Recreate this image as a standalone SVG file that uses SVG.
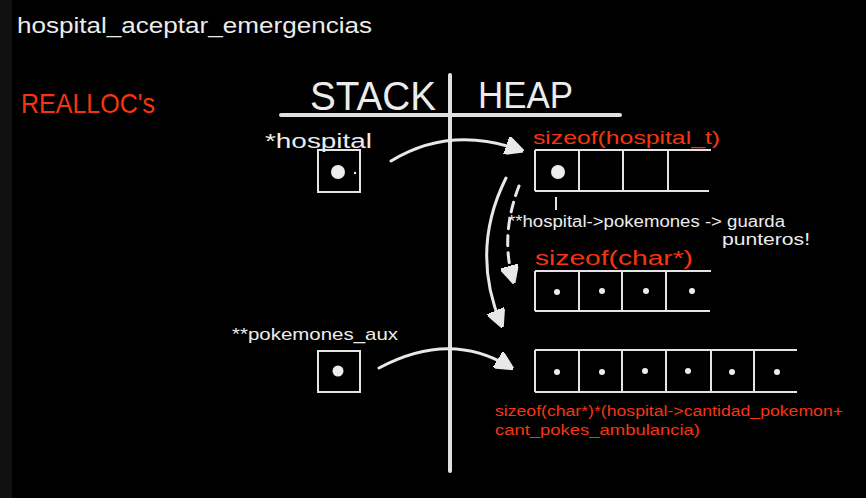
<svg xmlns="http://www.w3.org/2000/svg" width="866" height="498" viewBox="0 0 866 498">
<defs>
<style>
.w{fill:#ececec;font-family:"Liberation Sans",Arial,sans-serif}
.r{fill:#f53512;font-family:"Liberation Sans",Arial,sans-serif}
.ln{stroke:#e4e4e4;stroke-width:2;fill:none}
.thick{stroke:#e0e0e0;stroke-width:4;fill:none;stroke-linecap:round}
.arc{stroke:#e8e8e8;stroke-width:3;fill:none;stroke-linecap:round}
.dot{fill:#ececec}
</style>
<marker id="ah" viewBox="0 0 10 10" refX="8" refY="5" markerWidth="6" markerHeight="6" orient="auto" markerUnits="strokeWidth">
<path d="M0,0 L10,5 L0,10 Z" fill="#e8e8e8" stroke="#e8e8e8" stroke-width="1.5" stroke-linejoin="round"/>
</marker>
</defs>
<rect width="866" height="498" fill="#000"/>
<rect width="12" height="498" fill="#111"/>
<g id="title"><text class="w" x="17" y="33" font-size="22" textLength="355" lengthAdjust="spacingAndGlyphs">hospital_aceptar_emergencias</text></g>
<g id="realloc"><text class="r" x="21" y="113" font-size="28" textLength="134" lengthAdjust="spacingAndGlyphs">REALLOC's</text></g>
<g id="axes">
<line class="thick" x1="281" y1="115" x2="620" y2="115"/>
<line class="thick" x1="450" y1="75" x2="450" y2="471"/>
<text class="w" x="310" y="110" font-size="40" textLength="126" lengthAdjust="spacingAndGlyphs">STACK</text>
<text class="w" x="478" y="108" font-size="36" textLength="95" lengthAdjust="spacingAndGlyphs">HEAP</text>
</g>
<g id="stack-hospital">
<text class="w" x="265" y="148" font-size="20" textLength="107" lengthAdjust="spacingAndGlyphs">*hospital</text>
<rect class="ln" x="318" y="150" width="42" height="42"/>
<circle class="dot" cx="338" cy="172" r="7"/>
<circle class="dot" cx="355" cy="173" r="1.2"/>
</g>
<g id="stack-pokemones-aux">
<text class="w" x="232" y="340" font-size="17" textLength="166" lengthAdjust="spacingAndGlyphs">**pokemones_aux</text>
<rect class="ln" x="318" y="351" width="42" height="41"/>
<circle class="dot" cx="338" cy="371" r="5.5"/>
</g>
<g id="heap-hospital">
<text class="r" x="533" y="144" font-size="19" textLength="187" lengthAdjust="spacingAndGlyphs">sizeof(hospital_t)</text>
<path class="ln" d="M535,150 H711 M535,191 H709 M535,150 V191 M579,150 V191 M623,150 V191 M668,150 V191"/>
<circle class="dot" cx="558" cy="172" r="7"/>
<line class="ln" x1="556" y1="197" x2="556" y2="210"/>
<text class="w" x="508" y="227" font-size="16" textLength="277" lengthAdjust="spacingAndGlyphs">**hospital-&gt;pokemones -&gt; guarda</text>
<text class="w" x="722" y="245" font-size="16" textLength="88" lengthAdjust="spacingAndGlyphs">punteros!</text>
</g>
<g id="heap-pokemones">
<text class="r" x="535" y="265" font-size="20" textLength="158" lengthAdjust="spacingAndGlyphs">sizeof(char*)</text>
<path class="ln" d="M535,271 H711 M535,311 H710 M535,271 V311 M579,271 V311 M622,271 V311 M666,271 V311"/>
<circle class="dot" cx="557" cy="292" r="3"/>
<circle class="dot" cx="602" cy="291" r="3"/>
<circle class="dot" cx="646" cy="291" r="3"/>
<circle class="dot" cx="692" cy="291" r="3"/>
</g>
<g id="heap-aux">
<path class="ln" d="M535,350 H797 M535,392 H797 M535,350 V392 M579,350 V392 M622,350 V392 M666,350 V392 M711,350 V392 M754,350 V392"/>
<circle class="dot" cx="557" cy="372" r="3"/>
<circle class="dot" cx="602" cy="372" r="3"/>
<circle class="dot" cx="645" cy="371" r="3"/>
<circle class="dot" cx="688" cy="371" r="3"/>
<circle class="dot" cx="732" cy="372" r="3"/>
<circle class="dot" cx="777" cy="372" r="3"/>
<text class="r" x="495" y="416" font-size="14" textLength="348" lengthAdjust="spacingAndGlyphs">sizeof(char*)*(hospital-&gt;cantidad_pokemon+</text>
<text class="r" x="495" y="435" font-size="14" textLength="205" lengthAdjust="spacingAndGlyphs">cant_pokes_ambulancia)</text>
</g>
<g id="connectors">
<path class="arc" d="M391,161 Q450,125 520,150" marker-end="url(#ah)"/>
<path class="arc" d="M379,368 Q450,330 510,367" marker-end="url(#ah)"/>
<path class="arc" d="M506,178 Q470,250 501,324" marker-end="url(#ah)"/>
<path class="arc" d="M519,186 Q500,235 513,280" stroke-dasharray="10,7" marker-end="url(#ah)"/>
</g>
</svg>
